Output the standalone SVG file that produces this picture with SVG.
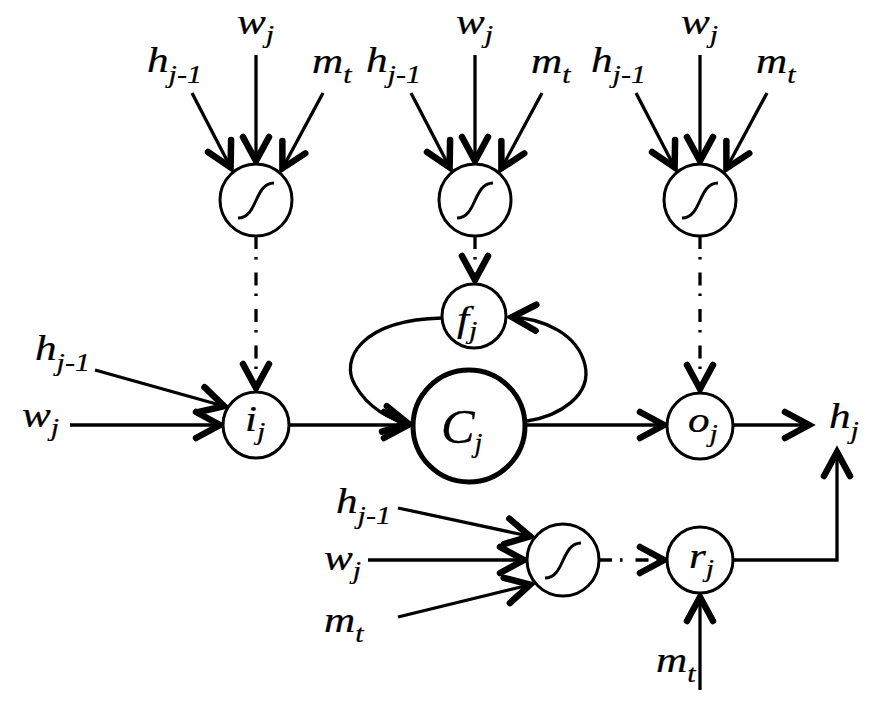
<svg xmlns="http://www.w3.org/2000/svg" width="878" height="726" viewBox="0 0 878 726">
<style>
.ln{fill:none;stroke:#000;stroke-width:3.3}
.ar{marker-end:url(#ah)}
.dd{stroke-dasharray:13 8 2.5 13}
.nd{fill:#fff;stroke:#000;stroke-width:3}
.big{fill:#fff;stroke:#000;stroke-width:5}
.sg{fill:none;stroke:#000;stroke-width:3}
</style>
<defs>
<marker id="ah" viewBox="-34 -20 40 40" markerWidth="40" markerHeight="40" refX="0" refY="0" orient="auto" markerUnits="userSpaceOnUse">
<path d="M -27,-13 L -3,0 L -27,13" fill="none" stroke="#000" stroke-width="6.5" stroke-linecap="round" stroke-linejoin="miter"/>
</marker>
<g id="sig"><path d="M -18,18 C 2,18 -2,-17 18,-17" class="sg"/></g>
</defs>
<rect width="878" height="726" fill="#fff"/>

<g id="connectors">
<g id="top-inputs-1">
<path class="ln ar" d="M256,55 V164"/>
<path class="ln ar" d="M192,93 L232,170"/>
<path class="ln ar" d="M323,93 L281,171"/>
</g>
<g id="top-inputs-2" transform="translate(219,0)">
<path class="ln ar" d="M256,55 V164"/>
<path class="ln ar" d="M192,93 L232,170"/>
<path class="ln ar" d="M323,93 L281,171"/>
</g>
<g id="top-inputs-3" transform="translate(444,0)">
<path class="ln ar" d="M256,55 V164"/>
<path class="ln ar" d="M192,93 L232,170"/>
<path class="ln ar" d="M323,93 L281,171"/>
</g>
<path class="ln ar dd" d="M256,236 V391"/>
<path class="ln ar dd" d="M475,236 V283"/>
<path class="ln ar dd" d="M700,236 V392"/>
<path class="ln ar" d="M95,370 L227,407"/>
<path class="ln ar" d="M70,425 H223"/>
<path class="ln ar" d="M289,425 H411"/>
<path class="ln ar" d="M442,318 C360,320 340,360 355,385 C368,408 390,420 411,424"/>
<path class="ln ar" d="M527,421 C560,416 592,395 585,365 C578,335 545,318 509,317"/>
<path class="ln ar" d="M526,425 H667"/>
<path class="ln ar" d="M733,425 H812"/>
<path class="ln ar" d="M733,560 H837 V449"/>
<path class="ln ar" d="M398,508 L533,537"/>
<path class="ln ar" d="M368,560 H527"/>
<path class="ln ar" d="M398,617 L533,584"/>
<path class="ln ar dd" d="M599,560 H667"/>
<path class="ln ar" d="M700,690 V594"/>
</g>

<g font-family="Liberation Serif" font-style="italic" stroke="#000" stroke-width="0.25">
<g id="labels-top-1">
<text transform="translate(147,72) scale(1.2,1)" font-size="36">h<tspan font-size="25" dy="11">j-1</tspan></text>
<text transform="translate(237,34) scale(1.2,1)" font-size="36">w<tspan font-size="25" dy="9">j</tspan></text>
<text transform="translate(312,73) scale(1.2,1)" font-size="36">m<tspan font-size="25" dy="10">t</tspan></text>
</g>
<g id="labels-top-2" transform="translate(219,0)">
<text transform="translate(147,72) scale(1.2,1)" font-size="36">h<tspan font-size="25" dy="11">j-1</tspan></text>
<text transform="translate(237,34) scale(1.2,1)" font-size="36">w<tspan font-size="25" dy="9">j</tspan></text>
<text transform="translate(312,73) scale(1.2,1)" font-size="36">m<tspan font-size="25" dy="10">t</tspan></text>
</g>
<g id="labels-top-3" transform="translate(444,0)">
<text transform="translate(147,72) scale(1.2,1)" font-size="36">h<tspan font-size="25" dy="11">j-1</tspan></text>
<text transform="translate(237,34) scale(1.2,1)" font-size="36">w<tspan font-size="25" dy="9">j</tspan></text>
<text transform="translate(312,73) scale(1.2,1)" font-size="36">m<tspan font-size="25" dy="10">t</tspan></text>
</g>
</g>

<g id="sigmoid-1"><circle class="nd" cx="256" cy="200" r="36"/><use href="#sig" x="256" y="200"/></g>
<g id="sigmoid-2"><circle class="nd" cx="475" cy="200" r="36"/><use href="#sig" x="475" y="200"/></g>
<g id="sigmoid-3"><circle class="nd" cx="700" cy="200" r="36"/><use href="#sig" x="700" y="200"/></g>
<g id="sigmoid-4"><circle class="nd" cx="563" cy="560" r="36"/><use href="#sig" x="563" y="560"/></g>

<g id="node-i"><circle class="nd" cx="256" cy="425" r="33"/></g>
<g id="node-f"><circle class="nd" cx="474" cy="316" r="32"/></g>
<g id="node-C"><circle class="big" cx="469" cy="426" r="56"/></g>
<g id="node-o"><circle class="nd" cx="700" cy="426" r="33"/></g>
<g id="node-r"><circle class="nd" cx="700" cy="560" r="33"/></g>

<g font-family="Liberation Serif" font-style="italic" stroke="#000" stroke-width="0.25">
<g id="label-i"><text transform="translate(245,431) scale(1.2,1)" font-size="36">i<tspan font-size="25" dy="9">j</tspan></text></g>
<g id="label-f"><text transform="translate(457,331) scale(1.2,1)" font-size="36">f<tspan font-size="25" dy="8">j</tspan></text></g>
<g id="label-C"><text transform="translate(441,443) scale(1.05,1)" font-size="48">C<tspan font-size="27" dy="9">j</tspan></text></g>
<g id="label-o"><text transform="translate(688,432) scale(1.2,1)" font-size="36">o<tspan font-size="25" dy="10">j</tspan></text></g>
<g id="label-r"><text transform="translate(689,568) scale(1.2,1)" font-size="36">r<tspan font-size="25" dy="9">j</tspan></text></g>

<g id="labels-left">
<text transform="translate(35,360) scale(1.2,1)" font-size="36">h<tspan font-size="25" dy="11">j-1</tspan></text>
<text transform="translate(22,427) scale(1.2,1)" font-size="36">w<tspan font-size="25" dy="9">j</tspan></text>
</g>
<g id="labels-bottom">
<text transform="translate(336,513) scale(1.2,1)" font-size="36">h<tspan font-size="25" dy="11">j-1</tspan></text>
<text transform="translate(324,570) scale(1.2,1)" font-size="36">w<tspan font-size="25" dy="9">j</tspan></text>
<text transform="translate(324,632) scale(1.2,1)" font-size="36">m<tspan font-size="25" dy="10">t</tspan></text>
<text transform="translate(656,672) scale(1.2,1)" font-size="36">m<tspan font-size="25" dy="10">t</tspan></text>
</g>
<g id="label-hj"><text transform="translate(829,428) scale(1.2,1)" font-size="36">h<tspan font-size="25" dy="11">j</tspan></text></g>
</g>
</svg>
